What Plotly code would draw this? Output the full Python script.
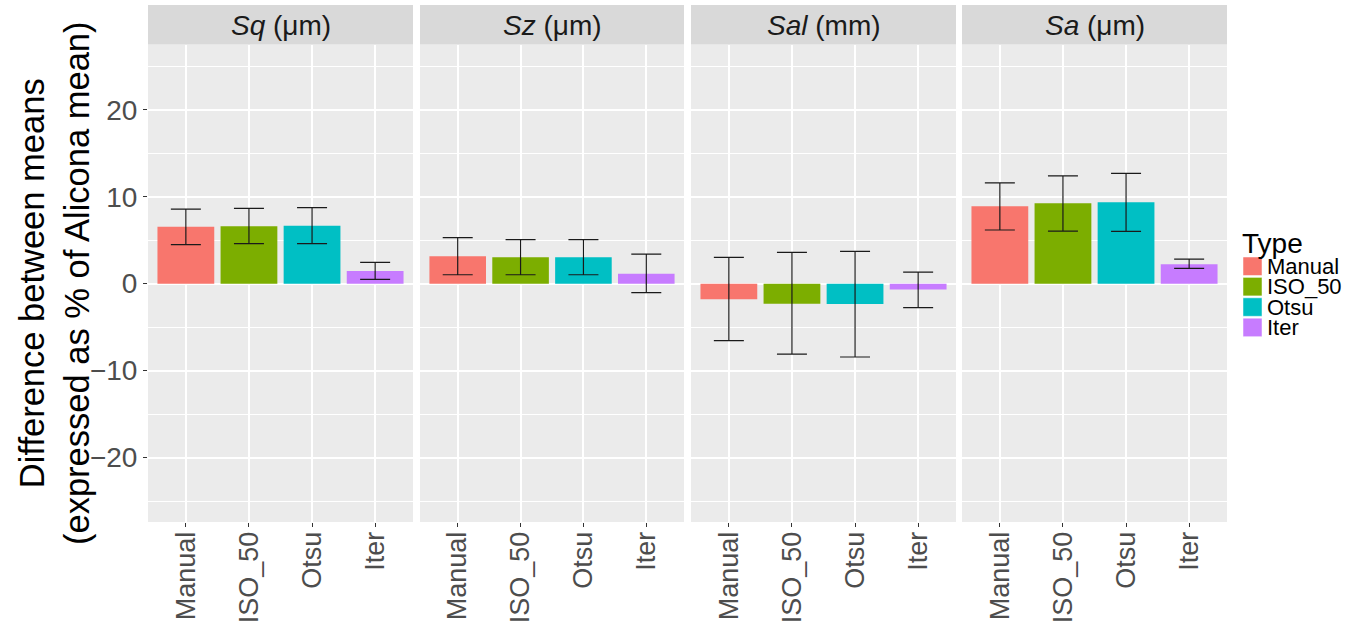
import plotly.graph_objects as go

types = ["Manual", "ISO_50", "Otsu", "Iter"]
colors = ["#F8766D", "#7CAE00", "#00BFC4", "#C77CFF"]
panels = ["<i>Sq</i> (μm)", "<i>Sz</i> (μm)", "<i>Sal</i> (mm)", "<i>Sa</i> (μm)"]

# mean differences per panel, ordered as types
sq_mean = [6.55, 6.6, 6.67, 1.45]
sq_lo = [4.48, 4.6, 4.6, 0.5]
sq_hi = [8.58, 8.66, 8.74, 2.45]

sz_mean = [3.14, 3.03, 3.03, 1.15]
sz_lo = [1.03, 1.03, 1.03, -1.03]
sz_hi = [5.29, 5.06, 5.06, 3.41]

sal_mean = [-1.8, -2.3, -2.34, -0.66]
sal_lo = [-6.55, -8.1, -8.43, -2.76]
sal_hi = [3.03, 3.6, 3.72, 1.34]

sa_mean = [8.9, 9.24, 9.35, 2.24]
sa_lo = [6.17, 6.05, 6.01, 1.75]
sa_hi = [11.6, 12.4, 12.68, 2.82]

means = [sq_mean, sz_mean, sal_mean, sa_mean]
los = [sq_lo, sz_lo, sal_lo, sa_lo]
his = [sq_hi, sz_hi, sal_hi, sa_hi]

W, H = 1348, 627
FONT = "Liberation Sans, Arial, sans-serif"
px_x = [(148, 413), (420, 684), (691, 956), (962, 1227)]
top_px, bot_px = 44.5, 522
ydom = [(H - bot_px) / H, (H - top_px) / H]

fig = go.Figure()
for p in range(4):
    xa = "x" if p == 0 else f"x{p+1}"
    ya = "y" if p == 0 else f"y{p+1}"
    for i, t in enumerate(types):
        m = means[p][i]
        fig.add_trace(go.Bar(
            x=[t], y=[m], xaxis=xa, yaxis=ya,
            name=t, legendgroup=t, showlegend=False,
            marker=dict(color=colors[i], line=dict(width=0)),
            width=0.9,
            error_y=dict(type="data", symmetric=False,
                         array=[his[p][i] - m], arrayminus=[m - los[p][i]],
                         color="#1a1a1a", thickness=1.2, width=15),
        ))

layout = dict(
    width=W, height=H,
    margin=dict(l=0, r=0, t=0, b=0, autoexpand=False),
    paper_bgcolor="white", plot_bgcolor="#EBEBEB",
    font=dict(family=FONT, color="#4D4D4D"),
    barmode="overlay",
    showlegend=False,
    shapes=[], annotations=[],
)
for p in range(4):
    sfx = "" if p == 0 else str(p + 1)
    x0, x1 = px_x[p]
    layout["xaxis" + sfx] = dict(
        domain=[x0 / W, x1 / W], anchor="y" + sfx, automargin=False,
        type="category", categoryorder="array", categoryarray=types,
        range=[-0.6, 3.6], showgrid=True, gridcolor="white", gridwidth=1.5,
        ticks="outside", ticklen=4, tickcolor="#333333", tickangle=-90,
        ticklabelstandoff=-6,
        tickfont=dict(size=27, color="#4D4D4D", family=FONT),
        zeroline=False, showline=False,
    )
    layout["yaxis" + sfx] = dict(
        domain=ydom, anchor="x" + sfx, automargin=False,
        range=[-27.4, 27.5],
        tickvals=[-20, -10, 0, 10, 20],
        showticklabels=(p == 0),
        ticks="outside" if p == 0 else "", ticklen=4, tickcolor="#333333",
        tickfont=dict(size=28, color="#4D4D4D", family=FONT),
        showgrid=True, gridcolor="white", gridwidth=1.5,
        minor=dict(tickvals=[-25, -15, -5, 5, 15, 25], showgrid=True,
                   gridcolor="white", gridwidth=0.7),
        zeroline=False, showline=False,
    )
    layout["shapes"].append(dict(
        type="rect", xref="paper", yref="paper",
        x0=x0 / W, x1=x1 / W, y0=(H - top_px) / H, y1=(H - 5) / H,
        fillcolor="#D9D9D9", line=dict(width=0), layer="below",
    ))
    layout["annotations"].append(dict(
        text=panels[p], xref="paper", yref="paper",
        x=(x0 + x1) / 2 / W, y=(H - 25) / H, showarrow=False,
        font=dict(size=28, color="#1A1A1A", family=FONT),
        xanchor="center", yanchor="middle",
    ))

# y-axis title
layout["annotations"].append(dict(
    text="Difference between means<br>(expressed as % of Alicona mean)",
    xref="paper", yref="paper", x=55 / W, y=(H - 283) / H,
    textangle=-90, showarrow=False,
    font=dict(size=34.5, color="black", family=FONT),
    xanchor="center", yanchor="middle",
))

# legend (ggplot style, drawn manually)
layout["annotations"].append(dict(
    text="Type", xref="paper", yref="paper",
    x=1240 / W, y=(H - 244) / H, xanchor="left", yanchor="middle",
    showarrow=False, font=dict(size=28, color="black", family=FONT),
))
key_top = 257
pitch = 20.4
for i, t in enumerate(types):
    y0 = key_top + i * pitch
    layout["shapes"].append(dict(
        type="rect", xref="paper", yref="paper",
        x0=1243 / W, x1=1262 / W, y0=(H - y0 - 18.5) / H, y1=(H - y0) / H,
        fillcolor=colors[i], line=dict(width=0.5, color="white"),
    ))
    layout["annotations"].append(dict(
        text=t, xref="paper", yref="paper",
        x=1265 / W, y=(H - y0 - 9.5) / H, xanchor="left", yanchor="middle",
        showarrow=False, font=dict(size=22, color="black", family=FONT),
    ))

fig.update_layout(**layout)
fig.write_html("out.html")
